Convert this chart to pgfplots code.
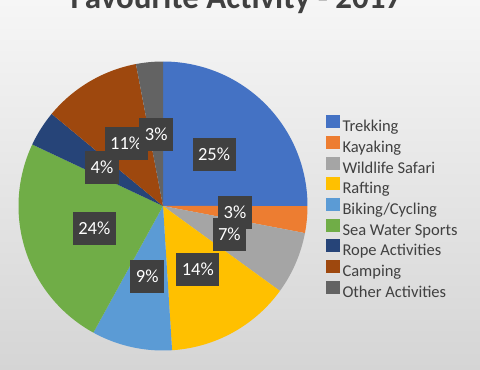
\documentclass[border=0pt]{standalone}
\usepackage{fontspec}
\setmainfont{Carlito}
\usepackage{pgfplots}
\usepackage{pgfplotstable}
\pgfplotsset{compat=1.18}
\definecolor{c1}{HTML}{4472C4}
\definecolor{c2}{HTML}{ED7D31}
\definecolor{c3}{HTML}{A5A5A5}
\definecolor{c4}{HTML}{FFC000}
\definecolor{c5}{HTML}{5B9BD5}
\definecolor{c6}{HTML}{70AD47}
\definecolor{c7}{HTML}{264478}
\definecolor{c8}{HTML}{9E480E}
\definecolor{c9}{HTML}{636363}
\definecolor{lblbg}{HTML}{404040}
\definecolor{txt}{HTML}{404040}
\definecolor{bgtop}{HTML}{F6F6F6}
\definecolor{bgbot}{HTML}{D5D5D5}

\pgfplotstableread[col sep=comma]{
name,value,col
Trekking,25,c1
Kayaking,3,c2
Wildlife Safari,7,c3
Rafting,14,c4
Biking/Cycling,9,c5
Sea Water Sports,24,c6
Rope Activities,4,c7
Camping,11,c8
Other Activities,3,c9
}\piedata

\def\cx{163}
\def\cy{164}
\def\R{144.5}

\begin{document}
\begin{tikzpicture}
\useasboundingbox (0,0) rectangle (480pt,370pt);
\clip (0,0) rectangle (480pt,370pt);
\shade[top color=bgtop, bottom color=bgbot] (0,0) rectangle (480pt,370pt);
\begin{axis}[
  at={(0pt,0pt)}, anchor=south west,
  scale only axis, width=480pt, height=370pt,
  xmin=0, xmax=480, ymin=0, ymax=370,
  hide axis, clip=false,
  legend style={at={(0.67917,0.6892)}, anchor=north west, draw=none, fill=none,
    inner sep=0pt, row sep=0.2pt,
    font=\fontsize{16.5}{18}\selectfont\color{txt},
    nodes={inner sep=0pt, text height=12pt, text depth=4pt},
    /tikz/every odd column/.style={column sep=2.3pt}},
  legend cell align=left,
  legend image code/.code={\fill[#1] (0pt,-0.5pt) rectangle (14pt,12.5pt);},
]
\def\cum{0}
\pgfplotsforeachungrouped \i in {0,...,8}{%
  \pgfplotstablegetelem{\i}{value}\of\piedata \let\v\pgfplotsretval
  \pgfplotstablegetelem{\i}{col}\of\piedata \let\c\pgfplotsretval
  \pgfplotstablegetelem{\i}{name}\of\piedata \let\n\pgfplotsretval
  \pgfmathsetmacro{\a}{90-3.6*\cum}
  \pgfmathsetmacro{\b}{90-3.6*(\cum+\v)}
  \edef\temp{\noexpand\addplot[fill=\c, draw=none, domain=\b:\a, samples=80]
    ({\cx+\R*cos(x)},{\cy+\R*sin(x)}) -- (\cx,\cy) -- cycle;
    \noexpand\addlegendentry{\n}}
  \temp
  \pgfmathsetmacro{\cum}{\cum+\v}
}
\def\cum{0}
\pgfplotsforeachungrouped \i in {0,...,8}{%
  \pgfplotstablegetelem{\i}{value}\of\piedata \let\v\pgfplotsretval
  \pgfmathsetmacro{\m}{90-3.6*(\cum+\v/2)}
  \pgfmathsetmacro{\lx}{\cx+0.5*\R*cos(\m)}
  \pgfmathsetmacro{\ly}{\cy+0.5*\R*sin(\m)}
  \edef\temp{\noexpand\node[fill=lblbg, text=white, inner xsep=5.5pt, inner ysep=0pt,
    minimum height=33pt, text height=12pt, text depth=0pt,
    font=\noexpand\fontsize{18.5}{20}\noexpand\selectfont] at (\lx,\ly) {\v\noexpand\%};}
  \temp
  \pgfmathsetmacro{\cum}{\cum+\v}
}
\node[anchor=base, text=txt, font=\fontsize{33}{36}\selectfont\bfseries] at (236.5,361.5) {Favourite Activity - 2017};
\end{axis}
\end{tikzpicture}
\end{document}
